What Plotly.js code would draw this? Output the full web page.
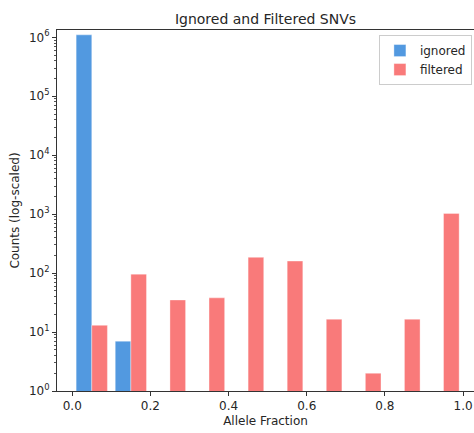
<!DOCTYPE html>
<html>
<head>
<meta charset="utf-8">
<script src="https://cdn.plot.ly/plotly-3.0.1.min.js"></script>
<style>html,body{margin:0;padding:0;background:#fff;}#chart{width:474px;height:433px;}</style>
</head>
<body>
<div id="chart"></div>
<script>
const binCenters = [0.05, 0.15, 0.25, 0.35, 0.45, 0.55, 0.65, 0.75, 0.85, 0.95];
const ignoredCounts = [1100000, 7, null, null, null, null, null, null, null, null];
const filteredCounts = [13, 96, 35, 38, 185, 160, 16.5, 2, 16.5, 1030];
const yTickVals = [1, 10, 100, 1000, 10000, 100000, 1000000];
const yTickText = ['10<sup>0</sup>', '10<sup>1</sup>', '10<sup>2</sup>', '10<sup>3</sup>', '10<sup>4</sup>', '10<sup>5</sup>', '10<sup>6</sup>'];
const xTickVals = [0, 0.2, 0.4, 0.6, 0.8, 1.0];
const xTickText = ['0.0', '0.2', '0.4', '0.6', '0.8', '1.0'];

const font = {family: 'DejaVu Sans', color: '#262626'};
const traces = [
  {type: 'bar', name: 'ignored', x: binCenters, y: ignoredCounts,
   marker: {color: '#5299E0', line: {color: 'rgba(255,255,255,0.6)', width: 0.6}}},
  {type: 'bar', name: 'filtered', x: binCenters, y: filteredCounts,
   marker: {color: '#F97A7A', line: {color: 'rgba(255,255,255,0.6)', width: 0.6}}}
];
const layout = {
  width: 474, height: 433,
  margin: {l: 57, r: 0, t: 30, b: 42, autoexpand: false},
  paper_bgcolor: '#fff', plot_bgcolor: '#fff',
  font: Object.assign({size: 12}, font),
  barmode: 'group', bargap: 0.2, bargroupgap: 0,
  title: {text: 'Ignored and Filtered SNVs', font: Object.assign({size: 14}, font),
          x: 0.5, xref: 'paper', y: 1, yref: 'paper', yanchor: 'bottom', pad: {b: 6}},
  xaxis: {
    range: [-0.039, 1.028], tickmode: 'array', tickvals: xTickVals, ticktext: xTickText,
    automargin: false,
    ticks: 'outside', ticklen: 4, tickcolor: '#333', showgrid: false, zeroline: false,
    showline: true, linecolor: '#333', linewidth: 1, mirror: true,
    tickfont: Object.assign({size: 12}, font),
    title: {text: 'Allele Fraction', font: Object.assign({size: 12}, font), standoff: 4}
  },
  yaxis: {
    type: 'log', range: [0, 6.124], tickmode: 'array', tickvals: yTickVals, ticktext: yTickText,
    automargin: false,
    ticks: 'outside', ticklen: 4, tickcolor: '#333', showgrid: false, zeroline: false,
    showline: true, linecolor: '#333', linewidth: 1,
    minor: {ticks: 'outside', ticklen: 2, tickcolor: '#555', showgrid: false, dtick: 'D1'},
    tickfont: Object.assign({size: 12}, font),
    title: {text: 'Counts (log-scaled)', font: Object.assign({size: 12}, font), standoff: 6}
  },
  legend: {x: 0.995, y: 0.986, xanchor: 'right', yanchor: 'top', bgcolor: '#fff',
           bordercolor: '#ccc', borderwidth: 1, itemwidth: 30,
           font: Object.assign({size: 12}, font)},
  showlegend: true
};
Plotly.newPlot('chart', traces, layout, {displayModeBar: false, staticPlot: true});
</script>
</body>
</html>
